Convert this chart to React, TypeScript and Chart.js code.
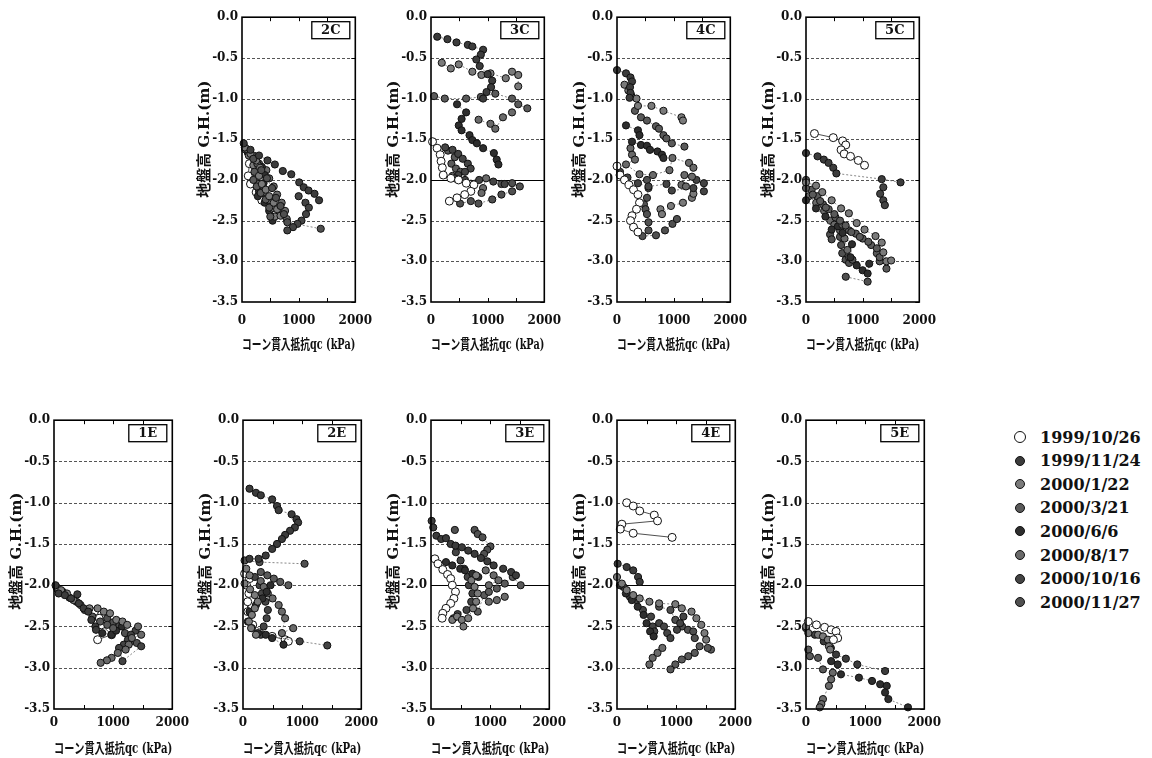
import React, { useEffect, useRef } from "react";
import { Chart, registerables } from "chart.js";
Chart.register(...registerables);

type Pt = [number, number];
type Track = [number, Pt[]];

const DATES = ["1999/10/26", "1999/11/24", "2000/1/22", "2000/3/21", "2000/6/6", "2000/8/17", "2000/10/16", "2000/11/27"];
const X_TICKS = [0, 1000, 2000];
const Y_TICKS = [0, -0.5, -1.0, -1.5, -2.0, -2.5, -3.0, -3.5];
const GRID_LEVELS = [-0.5, -1.0, -1.5, -2.0, -2.5, -3.0];
const X_TITLE = "コーン貫入抵抗qc (kPa)";
const Y_TITLE = "地盤高 G.H.(m)";

// [series index, [qc kPa, G.H. m][]]
const P2C: Track[] = [
  [1, [[30, -1.55], [150, -1.63], [300, -1.7], [450, -1.76], [580, -1.81], [720, -1.89], [870, -1.93], [1010, -2.03], [1090, -2.09], [1175, -2.13], [1280, -2.17], [1360, -2.25]]],
  [6, [[1000, -2.2], [1120, -2.28], [1180, -2.34], [1130, -2.42], [1050, -2.5], [980, -2.54], [900, -2.58], [800, -2.62]]],
  [7, [[200, -1.74], [340, -1.88], [440, -1.98], [530, -2.1], [600, -2.22], [680, -2.32], [740, -2.42], [800, -2.52], [1390, -2.6]]],
  [2, [[50, -1.6], [150, -1.68], [250, -1.76], [320, -1.85], [300, -1.95], [350, -2.05], [420, -2.12], [480, -2.2], [560, -2.28], [620, -2.36], [680, -2.44]]],
  [3, [[80, -1.62], [200, -1.7], [270, -1.8], [220, -1.9], [200, -2.0], [260, -2.08], [330, -2.16], [420, -2.24], [480, -2.34], [500, -2.45]]],
  [2, [[120, -1.7], [200, -1.82], [260, -1.95], [300, -2.05], [380, -2.15], [460, -2.25], [520, -2.35], [580, -2.45]]],
  [4, [[100, -1.66], [240, -1.74], [350, -1.84], [400, -1.94], [380, -2.04], [300, -2.14], [280, -2.2], [400, -2.28], [480, -2.38], [540, -2.5]]],
  [5, [[150, -1.7], [300, -1.8], [430, -1.88], [480, -1.98], [560, -2.08], [620, -2.18], [700, -2.28], [760, -2.38], [790, -2.48]]],
  [0, [[60, -1.62], [130, -1.8], [110, -1.95], [150, -2.05], [250, -2.15], [350, -2.25], [500, -2.32], [610, -2.4]]],
];

const P3C: Track[] = [
  [0, [[27, -1.53], [108, -1.61], [162, -1.69], [178, -1.77], [200, -1.85], [216, -1.94], [351, -1.98], [486, -2.0], [622, -2.04], [757, -2.06], [703, -2.14], [595, -2.18], [459, -2.22], [324, -2.26]]],
  [1, [[110, -0.24], [290, -0.27], [450, -0.31], [650, -0.34], [730, -0.36], [920, -0.4], [880, -0.46], [800, -0.52], [860, -0.6], [1000, -0.7], [1080, -0.78], [1060, -0.86], [980, -0.92], [920, -1.0]]],
  [2, [[190, -0.56], [350, -0.63], [490, -0.58], [730, -0.67], [890, -0.71], [1050, -0.69], [1320, -0.75], [1430, -0.67], [1540, -0.71], [1540, -0.85]]],
  [3, [[54, -0.97], [243, -1.0], [620, -1.0], [880, -0.98], [1135, -0.94], [1430, -1.0], [1540, -1.07], [1700, -1.12]]],
  [4, [[460, -1.07], [620, -1.17], [540, -1.25], [490, -1.33], [540, -1.39], [680, -1.45], [730, -1.51], [810, -1.55], [920, -1.61], [1110, -1.67], [1160, -1.75], [1190, -1.81]]],
  [5, [[840, -1.26], [1050, -1.31], [1135, -1.37], [1270, -1.23], [1430, -1.17]]],
  [5, [[973, -1.98], [919, -2.1], [892, -2.16]]],
  [6, [[250, -1.6], [380, -1.63], [480, -1.68], [560, -1.74], [650, -1.8], [700, -1.86], [600, -1.9], [480, -1.94], [420, -1.98], [600, -2.0], [850, -2.0], [1100, -2.02], [1300, -2.05]]],
  [3, [[300, -1.64], [420, -1.72], [360, -1.8], [440, -1.86], [520, -1.9], [380, -1.95]]],
  [7, [[513, -2.29], [703, -2.26], [838, -2.29], [1081, -2.24], [1243, -2.18], [1432, -2.14], [1568, -2.08], [1432, -2.04], [1243, -2.05]]],
];

const P4C: Track[] = [
  [0, [[0, -1.83], [53, -1.94], [132, -2.0], [212, -2.06], [291, -2.12], [370, -2.18], [397, -2.28], [344, -2.36], [265, -2.44], [238, -2.5], [291, -2.58], [370, -2.64]]],
  [1, [[0, -0.65], [159, -0.69], [238, -0.74], [265, -0.79], [230, -0.86], [238, -0.93], [222, -0.99]]],
  [2, [[132, -0.83], [200, -0.9], [250, -0.96], [344, -1.0], [370, -1.09], [608, -1.09], [820, -1.15], [1138, -1.23], [1164, -1.27]]],
  [3, [[317, -1.15], [423, -1.23], [529, -1.27], [688, -1.34], [741, -1.37], [820, -1.45], [873, -1.49], [968, -1.55], [1190, -1.59]]],
  [4, [[159, -1.33], [370, -1.39], [397, -1.45], [265, -1.53], [423, -1.57], [529, -1.58], [582, -1.63], [714, -1.65], [794, -1.69], [820, -1.73]]],
  [5, [[238, -1.61], [265, -1.69], [317, -1.75], [159, -1.81], [397, -1.93], [635, -1.94], [926, -1.88], [979, -1.73], [1270, -1.79], [1349, -1.85], [1323, -1.96], [1190, -1.94], [1138, -2.06], [1217, -2.08]]],
  [6, [[53, -1.9], [185, -1.97], [370, -2.04], [556, -2.08], [873, -2.05], [968, -2.13], [1349, -2.1], [1402, -2.0], [1534, -2.04], [1534, -2.14]]],
  [7, [[529, -2.0], [556, -2.1], [529, -2.22], [476, -2.3], [503, -2.36], [529, -2.42], [556, -2.52], [556, -2.62], [450, -2.69], [688, -2.68], [847, -2.62], [979, -2.54], [1058, -2.48]]],
  [2, [[767, -2.36], [794, -2.42], [952, -2.32], [1164, -2.28], [1323, -2.22], [1349, -2.17]]],
];

const P5C: Track[] = [
  [0, [[149, -1.43], [481, -1.48], [646, -1.52], [702, -1.57], [619, -1.63], [674, -1.68], [785, -1.71], [923, -1.76], [1033, -1.82]]],
  [1, [[0, -1.67], [204, -1.71], [315, -1.75], [398, -1.79], [481, -1.85], [536, -1.92], [1337, -1.99], [1669, -2.03]]],
  [6, [[1365, -2.09], [1309, -2.17], [1365, -2.25], [1392, -2.31]]],
  [2, [[0, -2.03], [177, -2.07], [287, -2.15], [453, -2.25], [619, -2.35], [757, -2.41], [895, -2.53], [1033, -2.61], [1227, -2.69], [1337, -2.77], [1365, -2.89], [1420, -3.0], [1503, -2.99]]],
  [3, [[0, -2.1], [120, -2.18], [250, -2.26], [350, -2.34], [500, -2.42], [600, -2.5], [700, -2.56], [800, -2.64], [950, -2.7], [1100, -2.76], [1250, -2.84], [1300, -2.95], [1420, -3.09]]],
  [3, [[0, -2.0], [100, -2.12], [200, -2.2], [300, -2.3], [400, -2.36], [520, -2.46], [640, -2.55], [760, -2.62], [880, -2.66], [1000, -2.72], [1150, -2.8], [1250, -2.9], [1300, -3.0]]],
  [4, [[0, -2.25], [177, -2.35], [343, -2.45], [453, -2.61], [564, -2.57], [646, -2.65], [812, -2.79], [785, -2.95], [895, -3.05], [1000, -3.11], [1088, -3.15], [1116, -3.03]]],
  [5, [[50, -2.2], [180, -2.28], [320, -2.38], [430, -2.5], [500, -2.55], [600, -2.62], [680, -2.72], [730, -2.86], [760, -2.95]]],
  [7, [[600, -2.7], [620, -2.8], [640, -2.9], [700, -2.98], [760, -3.02], [820, -2.98]]],
  [7, [[702, -3.19], [1088, -3.25]]],
  [7, [[425, -2.67], [453, -2.73]]],
];

const P1E: Track[] = [
  [1, [[26, -2.0], [79, -2.1], [184, -2.12], [289, -2.16], [395, -2.11], [421, -2.22], [500, -2.28], [579, -2.32], [632, -2.42], [700, -2.5], [710, -2.54]]],
  [2, [[40, -2.02], [120, -2.06], [220, -2.1], [330, -2.18], [450, -2.24], [600, -2.28], [737, -2.28], [842, -2.32], [947, -2.34], [1053, -2.42], [1158, -2.44], [1237, -2.48]]],
  [3, [[60, -2.05], [150, -2.08], [260, -2.15], [380, -2.2], [520, -2.3], [650, -2.38], [780, -2.44], [900, -2.48], [1000, -2.52]]],
  [4, [[816, -2.58], [974, -2.6], [1050, -2.55], [1150, -2.5]]],
  [5, [[1421, -2.5], [1474, -2.6], [1316, -2.64], [1263, -2.72], [1211, -2.78], [1079, -2.82], [974, -2.88], [895, -2.91], [789, -2.94]]],
  [6, [[1380, -2.55], [1300, -2.6], [1250, -2.66], [1180, -2.72], [1100, -2.76], [1158, -2.92], [1474, -2.74]]],
  [7, [[900, -2.4], [1000, -2.45], [1100, -2.5], [1200, -2.58], [1300, -2.68], [1400, -2.7]]],
  [0, [[684, -2.32], [763, -2.4], [800, -2.48], [974, -2.6], [737, -2.66]]],
];

const P2E: Track[] = [
  [1, [[110, -0.83], [219, -0.88], [301, -0.91], [493, -0.96], [575, -1.04], [603, -1.09], [822, -1.14], [904, -1.2], [932, -1.24], [877, -1.3], [795, -1.34], [712, -1.39], [658, -1.44], [575, -1.5], [493, -1.56], [384, -1.64], [263, -1.68], [110, -1.68]]],
  [7, [[27, -1.7], [280, -1.72], [1041, -1.74]]],
  [3, [[301, -1.84], [411, -1.88], [521, -1.92], [630, -1.96], [767, -2.0]]],
  [2, [[55, -1.8], [110, -1.88], [27, -1.98], [120, -2.05], [200, -2.12], [250, -2.2], [200, -2.28], [150, -2.36], [100, -2.44], [137, -2.52], [219, -2.6]]],
  [4, [[466, -2.0], [400, -2.08], [329, -2.16], [219, -2.24], [110, -2.32], [82, -2.44], [150, -2.52], [250, -2.58], [384, -2.6], [493, -2.64], [685, -2.72]]],
  [5, [[300, -1.95], [350, -2.02], [420, -2.1], [500, -2.16], [603, -2.24], [658, -2.32], [712, -2.4], [658, -2.58], [849, -2.52]]],
  [6, [[200, -1.9], [280, -2.0], [320, -2.1], [380, -2.2], [420, -2.3], [400, -2.4], [350, -2.5], [300, -2.6], [959, -2.68], [1425, -2.73]]],
  [0, [[27, -1.86], [110, -1.92], [60, -2.0], [100, -2.1], [80, -2.2], [82, -2.32], [164, -2.48], [493, -2.62], [712, -2.66], [767, -2.68]]],
];

const P3E: Track[] = [
  [0, [[65, -1.68], [118, -1.74], [199, -1.81], [280, -1.87], [333, -1.92], [360, -2.0], [414, -2.08], [387, -2.16], [333, -2.22], [253, -2.28], [199, -2.34], [188, -2.4]]],
  [1, [[11, -1.22], [38, -1.3], [91, -1.4], [172, -1.44], [253, -1.43], [333, -1.5], [414, -1.52], [522, -1.54], [629, -1.58], [737, -1.62], [844, -1.67], [952, -1.71], [1059, -1.76], [1220, -1.8], [1355, -1.84], [1436, -1.88]]],
  [7, [[403, -1.33]]],
  [7, [[737, -1.33], [790, -1.38], [871, -1.42], [1005, -1.53], [952, -1.57], [898, -1.62]]],
  [2, [[360, -2.42], [441, -2.38], [522, -2.42], [548, -2.5], [629, -2.4], [710, -2.28], [763, -2.2], [790, -2.1], [737, -2.02], [683, -1.94], [763, -1.88]]],
  [3, [[790, -2.32], [898, -2.12], [978, -2.08], [1113, -2.04], [1247, -1.98], [1382, -1.9], [1516, -2.0]]],
  [4, [[253, -1.72], [360, -1.76], [494, -1.8], [575, -1.82], [700, -1.86], [800, -1.9]]],
  [5, [[925, -1.82], [1059, -1.88], [1140, -1.94], [978, -2.0], [978, -2.2], [1113, -2.18], [1247, -2.14]]],
  [6, [[420, -1.6], [500, -1.7], [560, -1.8], [620, -1.9], [640, -2.0], [700, -2.1], [680, -2.2], [600, -2.3], [450, -2.35], [380, -2.4]]],
];

const P4E: Track[] = [
  [0, [[164, -1.0], [274, -1.04], [384, -1.1], [630, -1.15], [685, -1.22], [82, -1.26], [55, -1.32], [274, -1.37], [932, -1.42]]],
  [1, [[11, -1.74], [164, -1.78], [274, -1.82], [356, -1.9], [384, -1.96]]],
  [2, [[0, -1.9], [82, -1.98], [164, -2.06], [274, -2.12], [384, -2.16], [548, -2.2], [712, -2.22], [986, -2.23], [1096, -2.28], [1260, -2.32], [1342, -2.4], [1425, -2.48], [1479, -2.58], [1507, -2.66]]],
  [3, [[1589, -2.78], [1534, -2.76], [1397, -2.74], [1315, -2.82], [1205, -2.86], [1096, -2.9], [986, -2.96], [904, -3.02]]],
  [4, [[50, -2.0], [150, -2.1], [250, -2.18], [350, -2.26], [450, -2.36], [500, -2.46], [560, -2.56], [620, -2.62]]],
  [5, [[548, -2.96], [603, -2.88], [685, -2.82], [767, -2.76]]],
  [6, [[110, -2.02], [219, -2.14], [329, -2.18], [438, -2.3], [575, -2.38], [603, -2.5], [630, -2.56], [712, -2.46], [795, -2.5], [849, -2.58], [904, -2.64], [1014, -2.54], [1068, -2.46], [1123, -2.38]]],
  [7, [[712, -2.26], [904, -2.3], [986, -2.42], [1100, -2.5], [1200, -2.54], [1288, -2.56], [1315, -2.64]]],
];

const P5E: Track[] = [
  [0, [[39, -2.44], [177, -2.48], [315, -2.51], [425, -2.54], [508, -2.56], [536, -2.64], [464, -2.66]]],
  [2, [[0, -2.5], [39, -2.58], [204, -2.6], [287, -2.62], [370, -2.66], [387, -2.74], [409, -2.78]]],
  [1, [[0, -2.52], [150, -2.6], [300, -2.68], [420, -2.76], [508, -2.84], [674, -2.89], [867, -2.96], [1337, -3.04]]],
  [3, [[39, -2.78], [66, -2.86], [204, -2.88], [287, -3.02]]],
  [4, [[425, -2.92], [536, -2.96], [591, -3.08], [895, -3.12], [1116, -3.16], [1254, -3.2], [1365, -3.22], [1337, -3.3], [1392, -3.38], [1724, -3.48]]],
  [5, [[453, -3.06], [425, -3.14], [387, -3.22], [287, -3.38], [260, -3.44], [232, -3.48]]],
];

const FILL = ["#ffffff", "#3c3c3c", "#7a7a7a", "#5a5a5a", "#2e2e2e", "#6a6a6a", "#444444", "#505050"];
const SERIF = '"DejaVu Serif", "Noto Sans CJK JP", serif';
const TEXT = "#111";

type PanelCfg = { name: string; tracks: Track[]; left: number; top: number; h: number; row: number; solid: boolean };

const PANELS: PanelCfg[] = [
  { name: "2C", tracks: P2C, left: 242, top: 14, h: 288, row: 0, solid: false },
  { name: "3C", tracks: P3C, left: 431, top: 14, h: 288, row: 0, solid: true },
  { name: "4C", tracks: P4C, left: 617, top: 14, h: 288, row: 0, solid: false },
  { name: "5C", tracks: P5C, left: 806, top: 14, h: 288, row: 0, solid: false },
  { name: "1E", tracks: P1E, left: 54, top: 417, h: 292, row: 1, solid: true },
  { name: "2E", tracks: P2E, left: 243, top: 417, h: 292, row: 1, solid: false },
  { name: "3E", tracks: P3E, left: 431, top: 417, h: 292, row: 1, solid: true },
  { name: "4E", tracks: P4E, left: 617, top: 417, h: 292, row: 1, solid: true },
  { name: "5E", tracks: P5E, left: 806, top: 417, h: 292, row: 1, solid: true },
];

const PLOT_W = 124;
const Y_AXIS_W = 50;
const PAD_TOP = 8;
const PAD_RIGHT = 18;

function makeDecor(cfg: PanelCfg) {
  return {
    id: "decor" + cfg.name,
    beforeDatasetsDraw(chart: any) {
      const { ctx, chartArea: a, scales } = chart;
      const y = scales.y;
      ctx.save();
      for (const g of GRID_LEVELS) {
        const py = Math.round(y.getPixelForValue(g)) + 0.5;
        const solid = cfg.solid && g === -2.0;
        ctx.beginPath();
        ctx.setLineDash(solid ? [] : [3, 2]);
        ctx.strokeStyle = solid ? "#000" : "#555";
        ctx.lineWidth = 1;
        ctx.moveTo(a.left, py);
        ctx.lineTo(a.right, py);
        ctx.stroke();
      }
      ctx.restore();
    },
    afterDraw(chart: any) {
      const { ctx, chartArea: a, scales } = chart;
      const x = scales.x;
      const y = scales.y;
      ctx.save();
      ctx.setLineDash([]);
      ctx.strokeStyle = "#000";
      ctx.lineWidth = 1;
      for (const v of [500, 1000, 1500]) {
        const px = Math.round(x.getPixelForValue(v)) + 0.5;
        ctx.beginPath();
        ctx.moveTo(px, a.top);
        ctx.lineTo(px, a.top + 4);
        ctx.moveTo(px, a.bottom);
        ctx.lineTo(px, a.bottom - 4);
        ctx.stroke();
      }
      for (const v of Y_TICKS) {
        const py = Math.round(y.getPixelForValue(v)) + 0.5;
        ctx.beginPath();
        ctx.moveTo(a.right, py);
        ctx.lineTo(a.right - 4, py);
        ctx.stroke();
      }
      ctx.lineWidth = 1.6;
      ctx.strokeRect(a.left, a.top, a.right - a.left, a.bottom - a.top);
      // panel label box
      const bw = 38;
      const bh = 17;
      const bx = a.right - 6 - bw;
      const by = a.top + 4;
      ctx.fillStyle = "#fff";
      ctx.fillRect(bx, by, bw, bh);
      ctx.lineWidth = 1.3;
      ctx.strokeRect(bx + 0.5, by + 0.5, bw, bh);
      ctx.fillStyle = TEXT;
      ctx.font = "bold 13px " + SERIF;
      ctx.textAlign = "center";
      ctx.textBaseline = "middle";
      ctx.fillText(cfg.name, bx + bw / 2 + 0.5, by + bh / 2 + 1);
      // y-axis title (sits above the panel centre, as in the reference)
      ctx.save();
      ctx.translate(a.left - 37, a.top + (cfg.row === 0 ? 122 : 131));
      ctx.rotate(-Math.PI / 2);
      ctx.font = "bold 15px " + SERIF;
      ctx.fillText(Y_TITLE, 0, 0);
      ctx.restore();
      ctx.restore();
    },
  };
}

function Panel({ cfg }: { cfg: PanelCfg }) {
  const ref = useRef<HTMLCanvasElement | null>(null);
  const axisH = cfg.row === 0 ? 52 : 49;
  const tickPad = cfg.row === 0 ? 12 : 7;
  const W = Y_AXIS_W + PLOT_W + PAD_RIGHT;
  const H = PAD_TOP + cfg.h + axisH;

  useEffect(() => {
    if (!ref.current) return;
    const datasets = cfg.tracks.map(([s, pts]) => ({
      label: DATES[s],
      data: pts.map(([qx, gy]) => ({ x: qx, y: gy })),
      showLine: true,
      clip: false as any,
      borderColor: s === 0 ? "#222" : "#6a6a6a",
      borderWidth: 0.8,
      borderDash: s === 0 ? [] : [2, 2],
      pointRadius: s === 0 ? 4 : 3.6,
      pointHoverRadius: s === 0 ? 4 : 3.6,
      pointBackgroundColor: FILL[s],
      pointBorderColor: "#111",
      pointBorderWidth: 1,
      tension: 0,
    }));
    const chart = new Chart(ref.current, {
      type: "scatter",
      data: { datasets },
      options: {
        animation: false,
        responsive: false,
        maintainAspectRatio: false,
        events: [],
        layout: { padding: { top: PAD_TOP, right: PAD_RIGHT, left: 0, bottom: 0 } },
        plugins: { legend: { display: false }, tooltip: { enabled: false } },
        scales: {
          x: {
            type: "linear",
            min: 0,
            max: 2000,
            afterBuildTicks: (s: any) => {
              s.ticks = X_TICKS.map((v) => ({ value: v }));
            },
            afterFit: (s: any) => {
              s.height = axisH;
            },
            grid: { display: false, drawTicks: false },
            border: { display: false },
            ticks: {
              padding: tickPad,
              maxRotation: 0,
              autoSkip: false,
              color: TEXT,
              font: { family: SERIF, size: 12, weight: "bold" },
              callback: (v: any) => String(v),
            },
            title: {
              display: true,
              text: X_TITLE,
              color: TEXT,
              font: { family: SERIF, size: 14, weight: "bold" },
              padding: { top: 0, bottom: 0 },
            },
          },
          y: {
            type: "linear",
            min: -3.5,
            max: 0,
            afterBuildTicks: (s: any) => {
              s.ticks = Y_TICKS.map((v) => ({ value: v }));
            },
            afterFit: (s: any) => {
              s.width = Y_AXIS_W;
            },
            grid: { display: false, drawTicks: false },
            border: { display: false },
            ticks: {
              padding: 4,
              autoSkip: false,
              color: TEXT,
              font: { family: SERIF, size: 12, weight: "bold" },
              callback: (v: any) => Number(v).toFixed(1),
            },
            title: { display: false },
          },
        },
      } as any,
      plugins: [makeDecor(cfg)],
    });
    return () => chart.destroy();
  }, []);

  return (
    <canvas
      ref={ref}
      width={W}
      height={H}
      style={{ position: "absolute", left: cfg.left - Y_AXIS_W, top: cfg.top - PAD_TOP, width: W, height: H }}
    />
  );
}

function Legend() {
  return (
    <div style={{ position: "absolute", left: 1014, top: 425, width: 138 }}>
      {DATES.map((d, i) => (
        <div key={d} style={{ position: "absolute", left: 0, top: i * 23.6, height: 24, display: "flex", alignItems: "center", whiteSpace: "nowrap" }}>
          <span
            style={{
              display: "inline-block",
              boxSizing: "border-box",
              width: i === 0 ? 12 : 10,
              height: i === 0 ? 12 : 10,
              marginLeft: i === 0 ? 0 : 1,
              marginRight: i === 0 ? 14 : 15,
              borderRadius: "50%",
              border: i === 0 ? "1.6px solid #111" : "1px solid #111",
              background: FILL[i],
            }}
          />
          <span style={{ font: "bold 16px " + SERIF, color: TEXT }}>{d}</span>
        </div>
      ))}
    </div>
  );
}

export default function App() {
  return (
    <div style={{ position: "absolute", left: 0, top: 0, width: 1152, height: 758, background: "#fff", overflow: "hidden" }}>
      {PANELS.map((p) => (
        <Panel key={p.name} cfg={p} />
      ))}
      <Legend />
    </div>
  );
}
